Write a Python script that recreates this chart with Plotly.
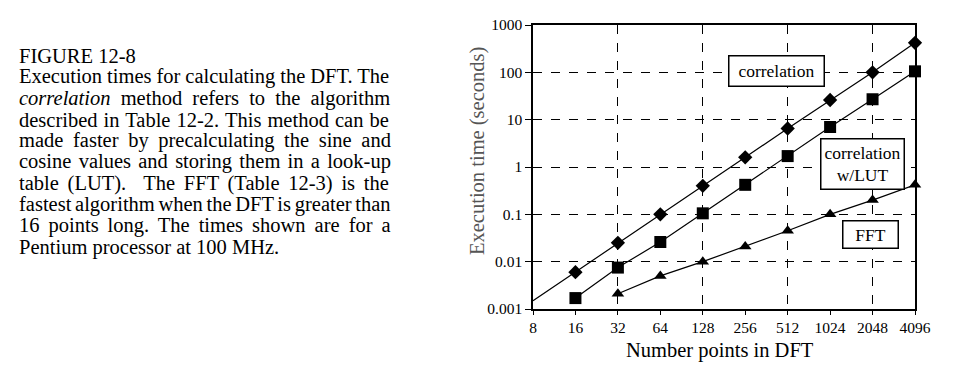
import math
import re
import plotly.graph_objects as go

# ---------------- data ----------------
n_points = [8, 16, 32, 64, 128, 256, 512, 1024, 2048, 4096]
corr_n = [8, 16, 32, 64, 128, 256, 512, 1024, 2048, 4096]
corr_t = [0.0015, 0.006, 0.025, 0.1, 0.4, 1.6, 6.5, 26, 100, 420]
lut_n = [16, 32, 64, 128, 256, 512, 1024, 2048, 4096]
lut_t = [0.0017, 0.0075, 0.026, 0.105, 0.42, 1.7, 7.0, 27, 105]
fft_n = [32, 64, 128, 256, 512, 1024, 2048, 4096]
fft_t = [0.0021, 0.005, 0.01, 0.021, 0.045, 0.1, 0.2, 0.42]

x_tick_labels = [str(v) for v in n_points]
y_tick_vals = [0.001, 0.01, 0.1, 1, 10, 100, 1000]
y_tick_labels = ["0.001", "0.01", "0.1", "1", "10", "100", "1000"]
x_grid_vals = [32, 128, 512, 2048]

caption_lines = [
    "FIGURE 12-8",
    "Execution times for calculating the DFT. The",
    "<i>correlation</i> method refers to the algorithm",
    "described in Table 12-2. This method can be",
    "made faster by precalculating the sine and",
    "cosine values and storing them in a look-up",
    "table (LUT).&nbsp; The FFT (Table 12-3) is the",
    "fastest algorithm when the DFT is greater than",
    "16 points long. The times shown are for a",
    "Pentium processor at 100 MHz.",
]
justified = [False, True, True, True, True, True, True, True, True, False]

FONT = "Liberation Serif, Times New Roman, serif"
W, H = 960, 385
L, R, T, B = 533, 45, 25, 76
PW, PH = W - L - R, H - T - B
CAP_SIZE = 20.5
CAP_LEFT, CAP_RIGHT = 17, 389

# approximate Times glyph widths (per em) for justification
_w = {' ': .25, '.': .25, '-': .333, '(': .333, ')': .333, '/': .278}
for ch in '0123456789':
    _w[ch] = .5
_w.update(dict(A=.722, B=.667, C=.667, D=.722, E=.611, F=.556, G=.722, H=.722, I=.333,
               L=.611, M=.889, N=.722, P=.556, R=.667, S=.556, T=.611, U=.722))
_w.update(dict(a=.444, b=.5, c=.444, d=.5, e=.444, f=.333, g=.5, h=.5, i=.278, j=.278,
               k=.5, l=.278, m=.778, n=.5, o=.5, p=.5, q=.5, r=.333, s=.389, t=.278,
               u=.5, v=.5, w=.722, x=.5, y=.5, z=.444))
_wi = dict(_w)
_wi.update(dict(r=.389, a=.5))


def text_width(s):
    s = s.replace('&nbsp;', ' ')
    total = 0.0
    for part in re.split(r'(<i>.*?</i>)', s):
        if part.startswith('<i>'):
            total += sum(_wi.get(c, .5) for c in part[3:-4])
        else:
            total += sum(_w.get(c, .5) for c in part)
    return total * CAP_SIZE


fig = go.Figure()

line = dict(color="black", width=1.2)
fig.add_trace(go.Scatter(x=corr_n, y=corr_t, mode="lines+markers", line=line,
                         marker=dict(symbol="diamond", size=11, color="black"),
                         cliponaxis=False, showlegend=False))
fig.add_trace(go.Scatter(x=lut_n, y=lut_t, mode="lines+markers", line=line,
                         marker=dict(symbol="square", size=12, color="black"),
                         cliponaxis=False, showlegend=False))
fig.add_trace(go.Scatter(x=fft_n, y=fft_t, mode="lines+markers", line=line,
                         marker=dict(symbol="triangle-up", size=11, color="black"),
                         cliponaxis=False, showlegend=False))

xr = [math.log10(n_points[0]), math.log10(n_points[-1])]
fig.update_layout(
    width=W, height=H,
    margin=dict(l=L, r=R, t=T, b=B, pad=0),
    paper_bgcolor="white", plot_bgcolor="white",
    font=dict(family=FONT, color="black", size=15),
    xaxis=dict(type="log", range=xr, tickvals=n_points, ticktext=x_tick_labels,
               showgrid=False, zeroline=False, showline=True, linecolor="black",
               linewidth=1.5, mirror=True, ticks="outside", ticklen=4,
               tickcolor="black", tickfont=dict(size=15.5, family=FONT)),
    xaxis2=dict(type="log", range=xr, overlaying="x", tickvals=x_grid_vals,
                showticklabels=False, ticks="", showgrid=True, gridcolor="black",
                griddash="dash", gridwidth=1, showline=False, zeroline=False),
    yaxis=dict(type="log", range=[-3, 3], tickvals=y_tick_vals, ticktext=y_tick_labels,
               showgrid=True, gridcolor="black", griddash="dash", gridwidth=1,
               zeroline=False, showline=True, linecolor="black", linewidth=1.5,
               mirror=True, ticks="outside", ticklen=6, tickcolor="black",
               tickfont=dict(size=15.5, family=FONT)),
)
# invisible trace to activate xaxis2 grid
fig.add_trace(go.Scatter(x=[n_points[0]], y=[1], xaxis="x2", mode="markers",
                         marker=dict(opacity=0), showlegend=False, hoverinfo="skip"))


def px_to_paper(px, py):
    return (px - L) / PW, (H - B - py) / PH


# axis titles
ax_, ay_ = px_to_paper(720, 350)
fig.add_annotation(text="Number points in DFT", x=ax_, y=ay_, xref="paper", yref="paper",
                   showarrow=False, xanchor="center", yanchor="middle",
                   font=dict(size=20.5, family=FONT, color="black"))
ax_, ay_ = px_to_paper(477, 151)
fig.add_annotation(text="Execution time (seconds)", x=ax_, y=ay_, xref="paper",
                   yref="paper", showarrow=False, xanchor="center", yanchor="middle",
                   textangle=-90, font=dict(size=20.5, family=FONT, color="#555555"))

# series labels
labels = [
    ("&nbsp;correlation&nbsp;", 776, 71, 4.5),
    ("correlation<br>w/LUT", 862, 164, 3),
    ("&nbsp;&nbsp;FFT&nbsp;&nbsp;", 870, 234.5, 3),
]
for text, px, py, pad in labels:
    ax, ay = px_to_paper(px, py)
    fig.add_annotation(text=text, x=ax, y=ay, xref="paper", yref="paper",
                       showarrow=False, xanchor="center", yanchor="middle",
                       font=dict(size=17.5, family=FONT, color="black"),
                       bgcolor="white", bordercolor="black", borderwidth=1.5,
                       borderpad=pad, align="center")

# caption text
base_y = 64
spacing = 21.3
for i, txt in enumerate(caption_lines):
    py = base_y + i * spacing
    ax, ay = px_to_paper(CAP_LEFT, py)
    shown = txt
    if justified[i]:
        nsp = txt.replace('&nbsp;', ' ').count(' ')
        extra = (CAP_RIGHT - CAP_LEFT) - text_width(txt)
        ws = extra / nsp
        shown = f'<span style="word-spacing:{ws:.2f}px">{txt}</span>'
    fig.add_annotation(text=shown, x=ax, y=ay, xref="paper", yref="paper",
                       xanchor="left", yanchor="bottom", showarrow=False,
                       font=dict(size=CAP_SIZE, family=FONT, color="black"),
                       align="left", yshift=-5)

fig.write_html("out.html", config={"displayModeBar": False},
               post_script="document.body.style.margin='0';")
